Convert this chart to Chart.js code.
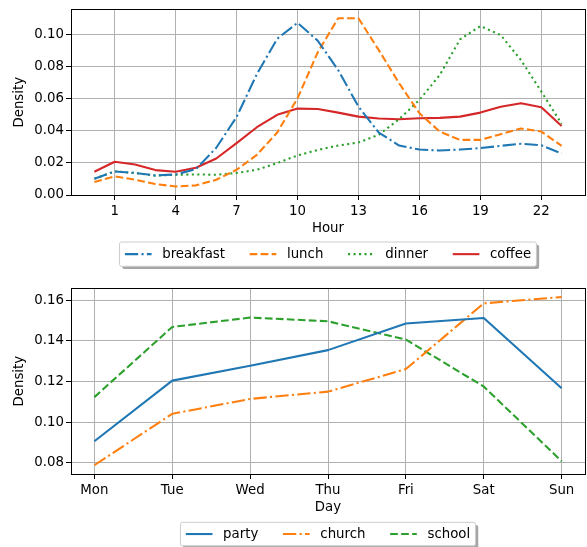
<!DOCTYPE html>
<html>
<head>
<meta charset="utf-8">
<script src="https://cdn.jsdelivr.net/npm/chart.js@4"></script>
<style>
  html, body { margin: 0; padding: 0; background: #fff; }
  canvas { display: block; }
</style>
</head>
<body>
<canvas id="mealChart" width="587" height="273"></canvas>
<canvas id="dayChart" width="587" height="274"></canvas>
<script>
// meal density by hour
const hours = [0, 1, 2, 3, 4, 5, 6, 7, 8, 9, 10, 11, 12, 13, 14, 15, 16, 17, 18, 19, 20, 21, 22, 23];
const breakfast = [0.0101, 0.0147, 0.0137, 0.0122, 0.0128, 0.0161, 0.0294, 0.0486, 0.0753, 0.0973, 0.1072, 0.0960,
                   0.0778, 0.0550, 0.0389, 0.0308, 0.0283, 0.0277, 0.0283, 0.0292, 0.0306, 0.0319, 0.0310, 0.0258];
const lunch = [0.0081, 0.0116, 0.0095, 0.0068, 0.0053, 0.0060, 0.0095, 0.0157, 0.0250, 0.0389, 0.0602, 0.0890,
               0.1100, 0.1100, 0.0902, 0.0696, 0.0509, 0.0395, 0.0343, 0.0343, 0.0379, 0.0414, 0.0395, 0.0306];
const dinner = [0.0101, 0.0147, 0.0137, 0.0120, 0.0126, 0.0128, 0.0126, 0.0137, 0.0157, 0.0199, 0.0246, 0.0281,
                0.0308, 0.0327, 0.0375, 0.0472, 0.0592, 0.0747, 0.0969, 0.1052, 0.0996, 0.0840, 0.0644, 0.0443];
const coffee = [0.0145, 0.0207, 0.0190, 0.0155, 0.0145, 0.0170, 0.0227, 0.0323, 0.0422, 0.0499, 0.0538, 0.0536,
                0.0513, 0.0488, 0.0476, 0.0472, 0.0478, 0.0480, 0.0488, 0.0513, 0.0550, 0.0571, 0.0547, 0.0430];
const hourTicks = [1, 4, 7, 10, 13, 16, 19, 22];
const mealDensityTicks = [0, 0.02, 0.04, 0.06, 0.08, 0.10];

// event density by day
const days = ['Mon', 'Tue', 'Wed', 'Thu', 'Fri', 'Sat', 'Sun'];
const party = [0.0906, 0.1204, 0.1277, 0.1354, 0.1485, 0.1512, 0.1167];
const church = [0.0788, 0.1041, 0.1114, 0.1150, 0.1261, 0.1584, 0.1615];
const school = [0.1123, 0.1468, 0.1514, 0.1496, 0.1406, 0.1175, 0.0808];
const dayDensityTicks = [0.08, 0.10, 0.12, 0.14, 0.16];

const FONT = 13.33;
Chart.defaults.font.family = '"DejaVu Sans"';
Chart.defaults.font.size = FONT;
Chart.defaults.color = '#000';

const blue = '#1f77b4', orange = '#ff7f0e', green = '#2ca02c', red = '#d62728';
const LW = 2.08;
const dashDot = [13.3, 3.3, 2.1, 3.3];
const dashed = [7.7, 3.3];
const dotted = [2.1, 3.4];

function series(xs, ys) {
    return xs.map((x, i) => ({ x: x, y: ys[i] }));
}

function line(label, xs, ys, color, dash) {
    return {
        label: label,
        data: series(xs, ys),
        borderColor: color,
        backgroundColor: color,
        borderWidth: LW,
        borderDash: dash,
        borderJoinStyle: 'round',
        pointRadius: 0,
        tension: 0,
        fill: false
    };
}

// black box around the plot + matplotlib-like legend
const mplFrame = {
    id: 'mplFrame',
    afterDatasetsDraw(chart) {
        const ctx = chart.ctx, a = chart.chartArea;
        const l = Math.floor(a.left), t = Math.floor(a.top), r = Math.floor(a.right), b = Math.floor(a.bottom);
        ctx.save();
        ctx.strokeStyle = '#000';
        ctx.lineWidth = 1;
        ctx.strokeRect(l + 0.5, t + 0.5, r - l, b - t);
        ctx.restore();
    }
};

const mplLegend = {
    id: 'mplLegend',
    afterDraw(chart, args, opts) {
        const ctx = chart.ctx;
        const handleLen = 2 * FONT, textPad = 0.8 * FONT, colGap = 2 * FONT - 2, pad = 0.4 * FONT;
        ctx.save();
        ctx.font = FONT + 'px "DejaVu Sans"';
        const items = chart.data.datasets.map(ds => ({ ds: ds, w: ctx.measureText(ds.label).width }));
        let total = 2 * pad + (items.length - 1) * colGap;
        items.forEach(it => total += handleLen + textPad + it.w);
        const a = chart.chartArea;
        const left = (a.left + a.right) / 2 - total / 2;
        const top = opts.top, h = opts.height;

        ctx.fillStyle = 'rgba(77,77,77,0.5)';
        ctx.beginPath();
        ctx.roundRect(left + 2.7, top + 2.7, total, h, 2);
        ctx.fill();

        ctx.fillStyle = '#fff';
        ctx.strokeStyle = '#cccccc';
        ctx.lineWidth = 1;
        ctx.beginPath();
        ctx.roundRect(left, top, total, h, 2);
        ctx.fill();
        ctx.stroke();

        let x = left + pad;
        const cy = top + h / 2;
        items.forEach(it => {
            ctx.strokeStyle = it.ds.borderColor;
            ctx.lineWidth = it.ds.borderWidth;
            ctx.setLineDash(it.ds.borderDash || []);
            ctx.beginPath();
            ctx.moveTo(x, cy);
            ctx.lineTo(x + handleLen, cy);
            ctx.stroke();
            ctx.setLineDash([]);
            x += handleLen + textPad;
            ctx.fillStyle = '#000';
            ctx.textBaseline = 'middle';
            ctx.textAlign = 'left';
            ctx.fillText(it.ds.label, x, cy);
            x += it.w + colGap;
        });
        ctx.restore();
    }
};

function axisX(min, max, ticks, title, height, fmt) {
    return {
        type: 'linear',
        min: min,
        max: max,
        afterBuildTicks: s => { s.ticks = ticks.map(v => ({ value: v })); },
        afterFit: s => { s.height = height; },
        grid: { color: '#b0b0b0', lineWidth: 1, tickColor: '#000', tickLength: 5 },
        border: { display: false },
        ticks: { padding: 5, maxRotation: 0, autoSkip: false, font: { lineHeight: 1 }, callback: fmt },
        title: { display: true, text: title, font: { lineHeight: 1 }, padding: { top: 0, bottom: 0 } }
    };
}

function axisY(min, max, ticks) {
    return {
        min: min,
        max: max,
        afterBuildTicks: s => { s.ticks = ticks.map(v => ({ value: v })); },
        afterFit: s => { s.width = 71; },
        grid: { color: '#b0b0b0', lineWidth: 1, tickColor: '#000', tickLength: 5 },
        border: { display: false },
        ticks: { padding: 2, autoSkip: false, font: { lineHeight: 1 }, callback: v => v.toFixed(2) },
        title: { display: true, text: 'Density', font: { lineHeight: 1 }, padding: { top: 13.3, bottom: 0 } }
    };
}

new Chart(document.getElementById('mealChart'), {
    type: 'line',
    data: {
        datasets: [
            line('breakfast', hours, breakfast, blue, dashDot),
            line('lunch', hours, lunch, orange, dashed),
            line('dinner', hours, dinner, green, dotted),
            line('coffee', hours, coffee, red, [])
        ]
    },
    options: {
        responsive: false,
        animation: false,
        devicePixelRatio: 1,
        layout: { padding: { left: 0, right: 2, top: 9.5, bottom: 38 } },
        scales: {
            x: axisX(-1.15, 24.15, hourTicks, 'Hour', 40, v => String(v)),
            y: axisY(0, 0.1155, mealDensityTicks)
        },
        plugins: {
            legend: { display: false },
            tooltip: { enabled: false },
            mplLegend: { top: 242, height: 24.3 }
        }
    },
    plugins: [mplFrame, mplLegend]
});

new Chart(document.getElementById('dayChart'), {
    type: 'line',
    data: {
        datasets: [
            line('party', days.map((d, i) => i), party, blue, []),
            line('church', days.map((d, i) => i), church, orange, dashDot),
            line('school', days.map((d, i) => i), school, green, dashed)
        ]
    },
    options: {
        responsive: false,
        animation: false,
        devicePixelRatio: 1,
        layout: { padding: { left: 0, right: 2, top: 15.3, bottom: 32.5 } },
        scales: {
            x: axisX(-0.3, 6.3, days.map((d, i) => i), 'Day', 40.5, v => days[v]),
            y: axisY(0.0745, 0.1658, dayDensityTicks)
        },
        plugins: {
            legend: { display: false },
            tooltip: { enabled: false },
            mplLegend: { top: 249.3, height: 23.5 }
        }
    },
    plugins: [mplFrame, mplLegend]
});
</script>
</body>
</html>
